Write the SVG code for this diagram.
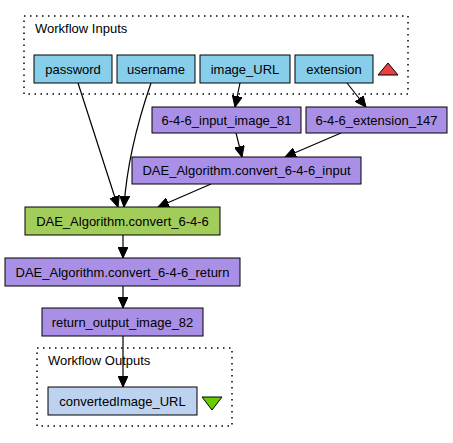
<svg xmlns="http://www.w3.org/2000/svg" width="453" height="443" viewBox="0 0 453 443">
<defs>
<marker id="arr" markerUnits="userSpaceOnUse" markerWidth="12" markerHeight="10" refX="11" refY="5" orient="auto">
<path d="M0,0 L11,5 L0,10 Z" fill="#000" stroke="#000" stroke-width="1"/>
</marker>
<style>
text{font-family:"Liberation Sans",Arial,sans-serif;font-size:13px;fill:#000}
.n text{text-anchor:middle}
.in rect{fill:#87ceeb;stroke:#000;stroke-width:1}
.pr rect{fill:#a990e6;stroke:#000;stroke-width:1}
.wf rect{fill:#a2cd5a;stroke:#000;stroke-width:1}
.out rect{fill:#bcd2ee;stroke:#000;stroke-width:1}
.cl{fill:none;stroke:#000;stroke-width:1.5;stroke-dasharray:1.5,4.5}
.e path{fill:none;stroke:#000;stroke-width:1.2;marker-end:url(#arr)}
</style>
</defs>
<rect width="453" height="443" fill="#fff"/>
<g id="cluster_inputs">
<rect class="cl" x="24" y="16" width="384" height="78"/>
<text x="35" y="33">Workflow Inputs</text>
<polygon points="388,63 378,75 398,75" fill="#ec4040" stroke="#000" stroke-width="1"/>
</g>
<g id="cluster_outputs">
<rect class="cl" x="37" y="348" width="195" height="78"/>
<text x="48" y="365">Workflow Outputs</text>
<polygon points="202,397 222,397 212,410" fill="#66cd00" stroke="#000" stroke-width="1"/>
</g>
<g id="edges" class="e">
<path d="M78,83 L118,207"/>
<path d="M151,83 C140,115 127,160 124,207"/>
<path d="M211,184 L158,207"/>
<path d="M240,83 L235,107"/>
<path d="M347,83 L366,107"/>
<path d="M236,133 L242,157"/>
<path d="M341,133 L285,157"/>
<path d="M123,235 L123,258"/>
<path d="M123,286 L123,308"/>
<path d="M123,336 L123,387"/>
</g>
<g id="password" class="n in"><rect x="34" y="55" width="78" height="28"/><text x="73" y="73.5">password</text></g>
<g id="username" class="n in"><rect x="117" y="55" width="78" height="28"/><text x="156" y="73.5">username</text></g>
<g id="image_URL" class="n in"><rect x="200" y="55" width="90" height="28"/><text x="245" y="73.5">image_URL</text></g>
<g id="extension" class="n in"><rect x="295" y="55" width="78" height="28"/><text x="334" y="73.5">extension</text></g>
<g id="input_image_81" class="n pr"><rect x="152" y="107" width="149" height="26"/><text x="226.5" y="124.5">6-4-6_input_image_81</text></g>
<g id="extension_147" class="n pr"><rect x="306" y="107" width="141" height="26"/><text x="376.5" y="124.5">6-4-6_extension_147</text></g>
<g id="convert_input" class="n pr"><rect x="132" y="157" width="229" height="27"/><text x="246.5" y="175">DAE_Algorithm.convert_6-4-6_input</text></g>
<g id="convert" class="n wf"><rect x="25" y="207" width="195" height="28"/><text x="122.5" y="225.5">DAE_Algorithm.convert_6-4-6</text></g>
<g id="convert_return" class="n pr"><rect x="5" y="258" width="235" height="28"/><text x="122.5" y="276.5">DAE_Algorithm.convert_6-4-6_return</text></g>
<g id="return_output_image_82" class="n pr"><rect x="42" y="308" width="161" height="28"/><text x="122.5" y="326.5">return_output_image_82</text></g>
<g id="convertedImage_URL" class="n out"><rect x="48" y="387" width="149" height="28"/><text x="122.5" y="405.5">convertedImage_URL</text></g>
</svg>
